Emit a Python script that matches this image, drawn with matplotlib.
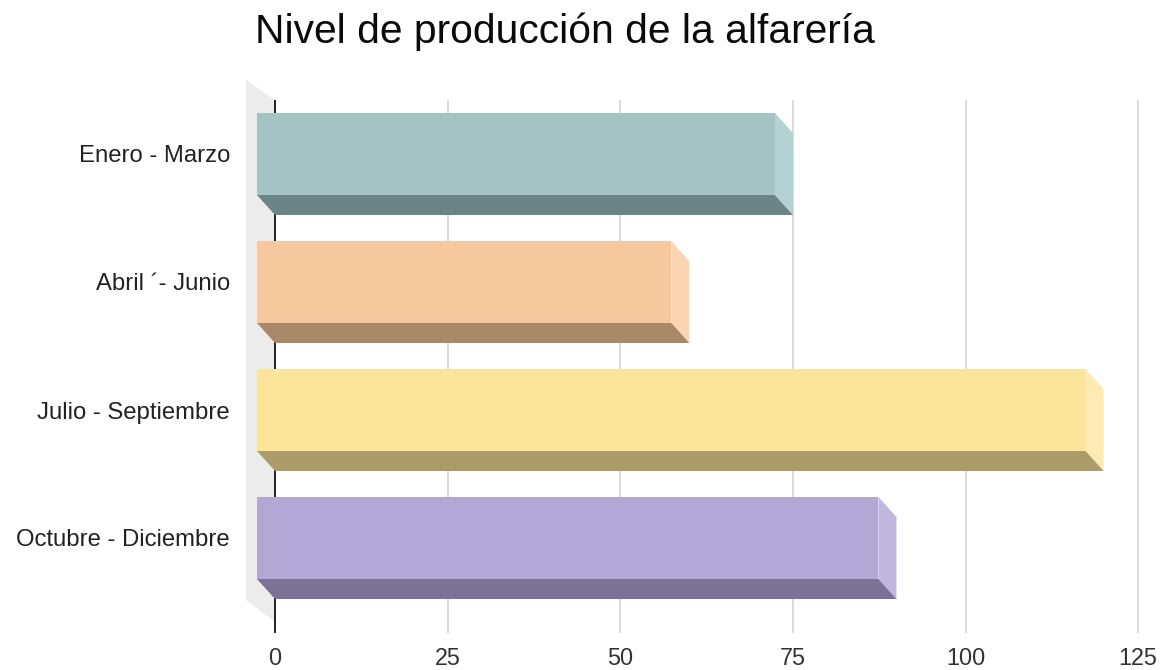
import matplotlib
matplotlib.use("Agg")
import matplotlib.pyplot as plt
from matplotlib.patches import Polygon

# ---- data ----
categories = ["Enero - Marzo", "Abril \u00b4- Junio", "Julio - Septiembre", "Octubre - Diciembre"]
values = [75, 60, 120, 90]
front_colors = ["#a4c3c5", "#f6c89d", "#fde49b", "#b2a7d5"]
side_colors = ["#b4d2d3", "#f9d5b2", "#feebb3", "#c1b7dd"]
bottom_colors = ["#6b8486", "#a88a6b", "#ad9c6b", "#7b7395"]
xticks = [0, 25, 50, 75, 100, 125]
title = "Nivel de producción de la alfarería"

W, H = 1166, 670
fig = plt.figure(figsize=(W / 100, H / 100), dpi=100)
fig.patch.set_facecolor("white")

# pixel geometry of plot region
px0 = 275.0        # pixel of value 0 (back plane)
ppu = 6.905        # pixels per unit on x
row0 = 154.0       # pixel y of first category center
rowstep = 128.0    # pixels between categories
ax_l, ax_r, ax_t, ax_b = 240, 1150, 75, 640

ax = fig.add_axes([ax_l / W, (H - ax_b) / H, (ax_r - ax_l) / W, (ax_b - ax_t) / H])
ax.set_xlim((ax_l - px0) / ppu, (ax_r - px0) / ppu)
ax.set_ylim((ax_b - row0) / rowstep, (ax_t - row0) / rowstep)
ax.axis("off")

def ux(p):   # pixel offset -> x units
    return p / ppu

def uy(p):   # pixel offset -> y units
    return p / rowstep

dx = ux(18)
dy = uy(20)
half = uy(41)

# left wall
wall = Polygon([(ux(246 - px0), uy(80 - row0)), (0, uy(100 - row0)),
                (0, uy(622 - row0)), (ux(246 - px0), uy(600 - row0))],
               closed=True, facecolor="#ececec", edgecolor="none", zorder=1)
ax.add_patch(wall)

# grid lines
g_top, g_bot = uy(100 - row0), uy(633 - row0)
for t in xticks:
    if t == 0:
        ax.plot([t, t], [g_top, g_bot], color="#111111", lw=1.3, zorder=2, solid_capstyle="butt")
    else:
        ax.plot([t, t], [g_top, g_bot], color="#cfcfcf", lw=1.1, zorder=2, solid_capstyle="butt")
    ax.text(t, uy(665 - row0), str(t), ha="center", va="baseline",
            fontsize=16.8, family="Liberation Sans", color="#333333", clip_on=False)

# bars
for i, (cat, v) in enumerate(zip(categories, values)):
    top = i - half
    bot = i + half
    front = Polygon([(-dx, top), (v - dx, top), (v - dx, bot), (-dx, bot)],
                    closed=True, facecolor=front_colors[i], edgecolor="none", zorder=4)
    side = Polygon([(v - dx, top), (v, top + dy), (v, bot + dy), (v - dx, bot)],
                   closed=True, facecolor=side_colors[i], edgecolor="none", zorder=4)
    bottom = Polygon([(-dx, bot), (v - dx, bot), (v, bot + dy), (0, bot + dy)],
                     closed=True, facecolor=bottom_colors[i], edgecolor="none", zorder=4)
    for p in (front, side, bottom):
        ax.add_patch(p)
    ax.text(ux(230 - px0), i + uy(8.5), cat, ha="right", va="baseline",
            fontsize=17.2, family="Liberation Sans", color="#222222", clip_on=False)

fig.text(565 / W, 1 - 43 / H, title, ha="center", va="baseline",
         fontsize=29.3, family="Liberation Sans", color="#0a0a0a")

fig.savefig("out.png", dpi=100, facecolor="white")
